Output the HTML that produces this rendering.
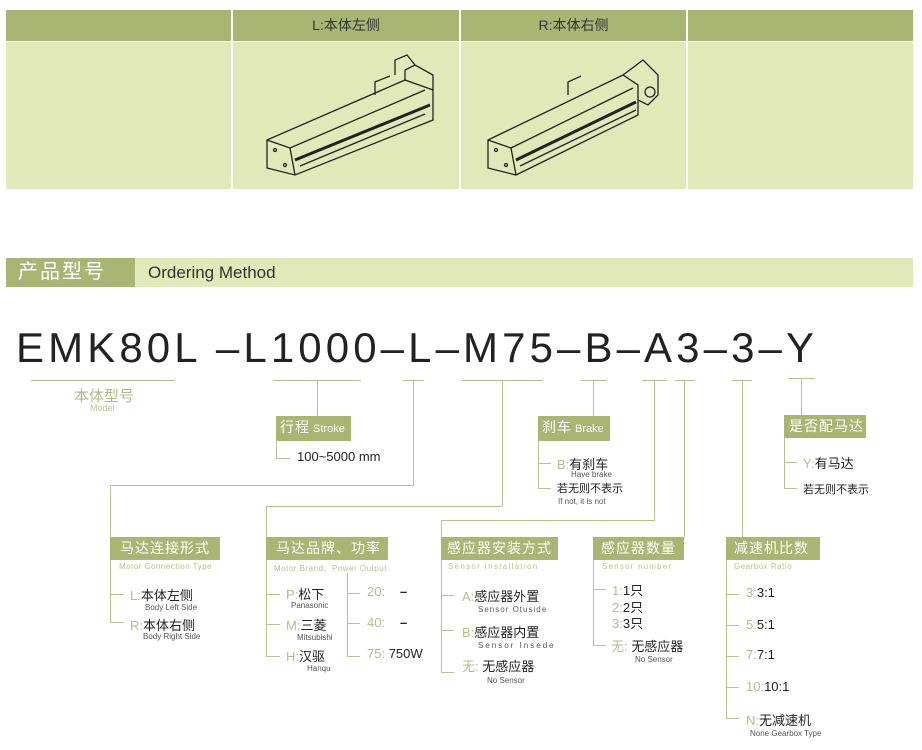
<!DOCTYPE html>
<html><head><meta charset="utf-8"><style>
body{margin:0;width:922px;height:750px;background:#fff;position:relative;overflow:hidden;font-family:"Liberation Sans","Noto Sans CJK SC",sans-serif}
.a{position:absolute}
.hl{position:absolute;height:1px;background:#b9c08e}
.vl{position:absolute;width:1px;background:#b9c08e}
.tag{position:absolute;background:#aab572;color:#fff;font-size:14px;line-height:23px;padding-left:4px;box-sizing:border-box;white-space:nowrap;letter-spacing:1px}
.sub{position:absolute;color:#b8bf8e;font-size:8px;white-space:nowrap;letter-spacing:.5px}
.t{position:absolute;font-size:13px;color:#222;white-space:nowrap}
.t b{font-weight:normal;color:#b5bd86}
.s{position:absolute;font-size:8px;color:#555;white-space:nowrap}
</style></head><body>
<!-- table -->
<div class="a" style="left:6px;top:10px;width:225px;height:31px;background:#a9b673"></div>
<div class="a" style="left:233px;top:10px;width:226px;height:31px;background:#a9b673;color:#333;font-size:14px;text-align:center;line-height:31px">L:本体左侧</div>
<div class="a" style="left:461px;top:10px;width:225px;height:31px;background:#a9b673;color:#333;font-size:14px;text-align:center;line-height:31px">R:本体右侧</div>
<div class="a" style="left:688px;top:10px;width:225px;height:31px;background:#a9b673"></div>
<div class="a" style="left:6px;top:42px;width:225px;height:147px;background:#e2e9b8"></div>
<div class="a" style="left:233px;top:42px;width:226px;height:147px;background:#e2e9b8"></div>
<div class="a" style="left:461px;top:42px;width:225px;height:147px;background:#e2e9b8"></div>
<div class="a" style="left:688px;top:42px;width:225px;height:147px;background:#e2e9b8"></div>
<svg class="a" style="left:255px;top:50px" width="190" height="130" viewBox="0 0 190 130" fill="none" stroke="#222" stroke-width="1.3">
<path d="M12 90 L150 30 L178 40 L178 70 L40 125 L12 118 Z"/><path d="M12 90 L35 98 L40 125"/><path d="M35 98 L170 40"/><path d="M40 110 L175 55" stroke-width="3"/><path d="M45 116 L170 64"/>
<path d="M150 30 L150 20 L160 15 L178 25 L178 40"/><path d="M140 25 L140 10 L152 5 L160 15"/><path d="M120 45 L120 32 L135 26"/>
<circle cx="20" cy="100" r="1.5"/><circle cx="30" cy="115" r="1.5"/></svg>
<svg class="a" style="left:478px;top:50px" width="190" height="130" viewBox="0 0 190 130" fill="none" stroke="#222" stroke-width="1.3">
<path d="M10 90 L145 25 L160 35 L160 65 L38 125 L10 118 Z"/><path d="M10 90 L33 98 L38 125"/><path d="M33 98 L155 38"/><path d="M38 110 L158 52" stroke-width="3"/><path d="M42 116 L158 60"/>
<path d="M145 25 L165 10 L180 25 L180 45 L170 55 L160 50"/><circle cx="172" cy="42" r="5"/><path d="M90 45 L90 32 L103 26"/>
<circle cx="18" cy="100" r="1.5"/><circle cx="28" cy="115" r="1.5"/></svg>
<!-- section bar -->
<div class="a" style="left:6px;top:258px;width:129px;height:29px;background:#a9b673;color:#fff;font-size:20px;line-height:29px;padding-left:12px;box-sizing:border-box;letter-spacing:2px">产品型号</div>
<div class="a" style="left:135px;top:258px;width:778px;height:29px;background:#e2e9b8;color:#333;font-size:17px;line-height:29px;padding-left:13px;box-sizing:border-box">Ordering Method</div>
<!-- code -->
<div class="a" style="left:16px;top:323px;font-size:42px;line-height:50px;color:#222;letter-spacing:4.1px;white-space:nowrap">EMK80L –L1000–L–M75–B–A3–3–Y</div>
<!-- model -->
<div class="hl" style="left:31px;top:380px;width:144px"></div>
<div class="a" style="left:74px;top:385px;font-size:15px;color:#b3bb84">本体型号</div>
<div class="a" style="left:90px;top:403px;font-size:9px;color:#b8bf8e">Model</div>
<!-- stroke -->
<div class="hl" style="left:273px;top:380px;width:88px"></div><div class="vl" style="left:317px;top:380px;height:36px"></div>
<div class="tag" style="left:276px;top:416px;width:75px">行程<span style="font-size:11px;letter-spacing:0"> Stroke</span></div>
<div class="vl" style="left:276px;top:439px;height:19px"></div><div class="hl" style="left:276px;top:458px;width:14px"></div>
<div class="t" style="left:297px;top:449px">100~5000 mm</div>
<!-- L -->
<div class="hl" style="left:403px;top:380px;width:21px"></div><div class="vl" style="left:413px;top:380px;height:105px"></div>
<div class="hl" style="left:110px;top:485px;width:304px"></div><div class="vl" style="left:110px;top:485px;height:52px"></div>
<div class="tag" style="left:110px;top:537px;width:110px;padding-left:10px">马达连接形式</div>
<div class="sub" style="left:119px;top:562px">Motor Connection Type</div>
<div class="vl" style="left:110px;top:560px;height:62px"></div>
<div class="hl" style="left:110px;top:594px;width:14px"></div><div class="hl" style="left:110px;top:622px;width:14px"></div>
<div class="t" style="left:130px;top:585px"><b>L:</b>本体左侧</div><div class="s" style="left:145px;top:603px">Body Left Side</div>
<div class="t" style="left:130px;top:615px"><b>R:</b>本体右侧</div><div class="s" style="left:143px;top:632px">Body Right Side</div>
<!-- motor -->
<div class="hl" style="left:462px;top:380px;width:81px"></div><div class="vl" style="left:502px;top:380px;height:126px"></div>
<div class="hl" style="left:266px;top:506px;width:236px"></div><div class="vl" style="left:266px;top:506px;height:31px"></div>
<div class="tag" style="left:266px;top:537px;width:122px;padding-left:10px">马达品牌、功率</div>
<div class="sub" style="left:274px;top:563px">Motor Brand、Power Output</div>
<div class="vl" style="left:266px;top:560px;height:96px"></div>
<div class="hl" style="left:266px;top:594px;width:14px"></div><div class="hl" style="left:266px;top:624px;width:14px"></div><div class="hl" style="left:266px;top:656px;width:14px"></div>
<div class="t" style="left:286px;top:584px"><b>P:</b>松下</div><div class="s" style="left:291px;top:601px">Panasonic</div>
<div class="t" style="left:286px;top:615px"><b>M:</b>三菱</div><div class="s" style="left:297px;top:633px">Mitsubishi</div>
<div class="t" style="left:286px;top:646px"><b>H:</b>汉驱</div><div class="s" style="left:307px;top:664px">Hanqu</div>
<div class="vl" style="left:347px;top:573px;height:83px"></div>
<div class="hl" style="left:347px;top:593px;width:13px"></div><div class="hl" style="left:347px;top:623px;width:13px"></div><div class="hl" style="left:347px;top:656px;width:13px"></div>
<div class="t" style="left:367px;top:584px"><b>20:</b></div><div class="t" style="left:400px;top:584px;font-weight:bold">–</div>
<div class="t" style="left:367px;top:615px"><b>40:</b></div><div class="t" style="left:400px;top:615px;font-weight:bold">–</div>
<div class="t" style="left:367px;top:646px"><b>75:</b> 750W</div>
<!-- brake -->
<div class="hl" style="left:581px;top:380px;width:26px"></div><div class="vl" style="left:593px;top:380px;height:36px"></div>
<div class="tag" style="left:538px;top:416px;width:72px">刹车<span style="font-size:11px;letter-spacing:0"> Brake</span></div>
<div class="vl" style="left:538px;top:439px;height:49px"></div>
<div class="hl" style="left:538px;top:463px;width:13px"></div><div class="hl" style="left:538px;top:488px;width:13px"></div>
<div class="t" style="left:557px;top:454px"><b>B:</b>有刹车</div><div class="s" style="left:571px;top:470px">Have brake</div>
<div class="t" style="left:557px;top:480px;font-size:11px">若无则不表示</div><div class="s" style="left:558px;top:497px">If not, it is not</div>
<!-- sensor install -->
<div class="hl" style="left:642px;top:380px;width:25px"></div><div class="vl" style="left:654px;top:380px;height:140px"></div>
<div class="hl" style="left:441px;top:520px;width:214px"></div><div class="vl" style="left:441px;top:520px;height:17px"></div>
<div class="tag" style="left:441px;top:537px;width:117px;padding-left:6px">感应器安装方式</div>
<div class="sub" style="left:448px;top:562px;letter-spacing:1.3px">Sensor Installation</div>
<div class="vl" style="left:441px;top:560px;height:112px"></div>
<div class="hl" style="left:441px;top:595px;width:13px"></div><div class="hl" style="left:441px;top:630px;width:13px"></div><div class="hl" style="left:441px;top:672px;width:13px"></div>
<div class="t" style="left:462px;top:586px"><b>A:</b>感应器外置</div><div class="s" style="left:478px;top:605px;letter-spacing:1px">Sensor Otuside</div>
<div class="t" style="left:462px;top:622px"><b>B:</b>感应器内置</div><div class="s" style="left:478px;top:641px;letter-spacing:2px">Sensor Insede</div>
<div class="t" style="left:462px;top:656px"><b>无:</b> 无感应器</div><div class="s" style="left:487px;top:676px">No Sensor</div>
<!-- sensor number -->
<div class="hl" style="left:675px;top:380px;width:20px"></div><div class="vl" style="left:684px;top:380px;height:157px"></div>
<div class="tag" style="left:593px;top:537px;width:91px;padding-left:8px">感应器数量</div>
<div class="sub" style="left:602px;top:562px;letter-spacing:1.2px">Sensor number</div>
<div class="vl" style="left:593px;top:559px;height:86px"></div>
<div class="hl" style="left:593px;top:589px;width:13px"></div><div class="hl" style="left:593px;top:645px;width:13px"></div>
<div class="t" style="left:612px;top:580px"><b>1:</b>1只</div>
<div class="t" style="left:612px;top:597px"><b>2:</b>2只</div>
<div class="t" style="left:612px;top:613px"><b>3:</b>3只</div>
<div class="t" style="left:611px;top:636px"><b>无:</b> 无感应器</div><div class="s" style="left:635px;top:655px">No Sensor</div>
<!-- gearbox -->
<div class="hl" style="left:732px;top:380px;width:20px"></div><div class="vl" style="left:742px;top:380px;height:157px"></div>
<div class="tag" style="left:726px;top:537px;width:94px;padding-left:8px">减速机比数</div>
<div class="sub" style="left:734px;top:562px">Gearbox Ratio</div>
<div class="vl" style="left:726px;top:560px;height:158px"></div>
<div class="hl" style="left:726px;top:594px;width:13px"></div><div class="hl" style="left:726px;top:625px;width:13px"></div><div class="hl" style="left:726px;top:656px;width:13px"></div><div class="hl" style="left:726px;top:687px;width:13px"></div><div class="hl" style="left:726px;top:718px;width:13px"></div>
<div class="t" style="left:746px;top:585px"><b>3:</b>3:1</div>
<div class="t" style="left:746px;top:617px"><b>5:</b>5:1</div>
<div class="t" style="left:746px;top:647px"><b>7:</b>7:1</div>
<div class="t" style="left:746px;top:679px"><b>10:</b>10:1</div>
<div class="t" style="left:746px;top:710px"><b>N:</b>无减速机</div><div class="s" style="left:750px;top:729px">None Gearbox Type</div>
<!-- Y -->
<div class="hl" style="left:788px;top:378px;width:27px"></div><div class="vl" style="left:801px;top:378px;height:38px"></div>
<div class="tag" style="left:784px;top:415px;width:82px;padding-left:5px">是否配马达</div>
<div class="vl" style="left:784px;top:437px;height:51px"></div>
<div class="hl" style="left:784px;top:462px;width:13px"></div><div class="hl" style="left:784px;top:488px;width:13px"></div>
<div class="t" style="left:803px;top:453px"><b>Y:</b>有马达</div>
<div class="t" style="left:803px;top:481px;font-size:11px">若无则不表示</div>
</body></html>
